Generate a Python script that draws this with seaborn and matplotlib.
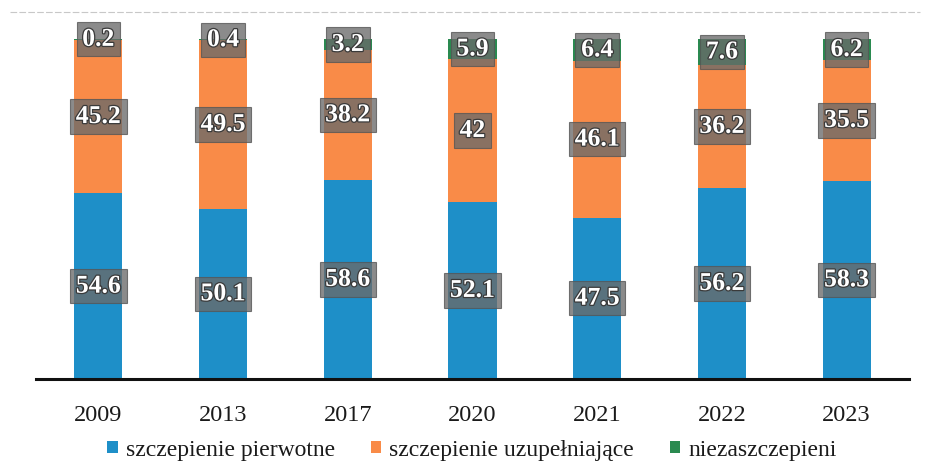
import matplotlib
matplotlib.use("Agg")
import matplotlib.pyplot as plt
import matplotlib.patheffects as pe
from matplotlib.patches import Patch
import seaborn as sns
import numpy as np
import pandas as pd

years = ["2009", "2013", "2017", "2020", "2021", "2022", "2023"]
pierwotne = [54.6, 50.1, 58.6, 52.1, 47.5, 56.2, 58.3]
uzupelniajace = [45.2, 49.5, 38.2, 42, 46.1, 36.2, 35.5]
niezaszczepieni = [0.2, 0.4, 3.2, 5.9, 6.4, 7.6, 6.2]
series_names = ["szczepienie pierwotne", "szczepienie uzupełniające", "niezaszczepieni"]
colors = ["#1E8FC8", "#F98B48", "#2A8A50"]

sns.set_theme(style="white")
plt.rcParams["font.family"] = ["Liberation Serif", "DejaVu Serif"]

df = pd.DataFrame({"year": years, "p": pierwotne, "u": uzupelniajace, "n": niezaszczepieni})
df["c1"] = df["p"]
df["c2"] = df["p"] + df["u"]
df["c3"] = df["p"] + df["u"] + df["n"]

fig = plt.figure(figsize=(9.28, 4.77), dpi=100)
ax = fig.add_axes([36 / 928, 97 / 477, 873 / 928, 340 / 477])

bw = 0.385
sns.barplot(data=df, x="year", y="c3", color=colors[2], width=bw, saturation=1, ax=ax, linewidth=0)
sns.barplot(data=df, x="year", y="c2", color=colors[1], width=bw, saturation=1, ax=ax, linewidth=0)
sns.barplot(data=df, x="year", y="c1", color=colors[0], width=bw, saturation=1, ax=ax, linewidth=0)

ax.set_ylim(0, 100)
ax.set_xlim(-0.5, len(years) - 0.5)
ax.set_xlabel("")
ax.set_ylabel("")
ax.set_yticks([])
for s in ["top", "right", "left"]:
    ax.spines[s].set_visible(False)
ax.spines["bottom"].set_color("#111111")
ax.spines["bottom"].set_linewidth(2.2)
ax.tick_params(axis="x", length=0, pad=18, labelsize=17.5, labelcolor="#1a1a1a")

def label(x, y, val):
    txt = f"{val:g}"
    ax.text(x, y, txt, ha="center", va="center", fontsize=18.5, fontweight="bold",
            color="white", clip_on=False,
            path_effects=[pe.withStroke(linewidth=1.8, foreground="#3a3a3a")],
            bbox=dict(boxstyle="square,pad=0.22", facecolor="#6a6a6a", alpha=0.78,
                      edgecolor="#555555", linewidth=0.8))

for i in range(len(years)):
    label(i, pierwotne[i] / 2, pierwotne[i])
    label(i, pierwotne[i] + uzupelniajace[i] / 2, uzupelniajace[i])
    label(i, pierwotne[i] + uzupelniajace[i] + niezaszczepieni[i] / 2, niezaszczepieni[i])

handles = [Patch(facecolor=c, edgecolor="none") for c in colors]
fig.legend(handles, series_names, loc="center", bbox_to_anchor=(472 / 928, 1 - 451 / 477),
           ncol=3, frameon=False, fontsize=17, handlelength=0.45, handleheight=0.45,
           handletextpad=0.35, columnspacing=1.5, labelcolor="#1a1a1a")

# faint scan frame line at top
fig.add_artist(plt.Line2D([10 / 928, 920 / 928], [1 - 13 / 477, 1 - 13 / 477],
                          color="#c8c8c8", linewidth=0.8, linestyle=(0, (6, 2))))

fig.savefig("out.png", dpi=100)
